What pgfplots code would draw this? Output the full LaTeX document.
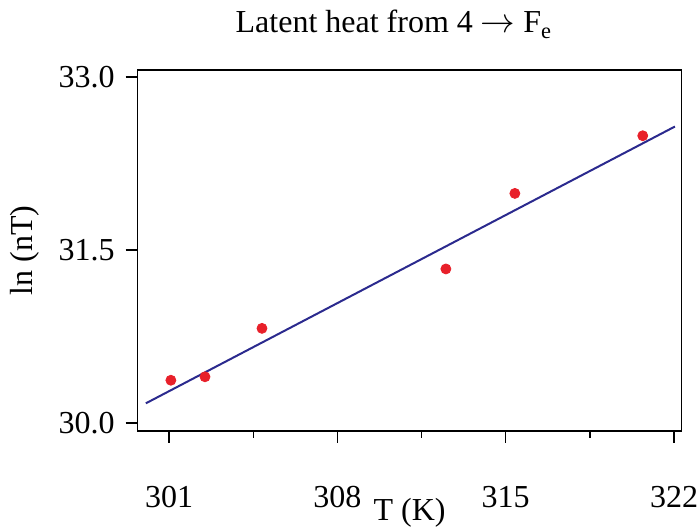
\documentclass[border=0pt]{standalone}
\usepackage{fontspec}
\setmainfont{Liberation Serif}
\usepackage{pgfplots}
\pgfplotsset{compat=1.18}
\definecolor{dotred}{HTML}{E8202A}
\definecolor{fitblue}{HTML}{2B2A8E}

\begin{document}
\fontsize{16pt}{19pt}\selectfont
\begin{tikzpicture}
\useasboundingbox (-68.85pt,-49pt) rectangle (279.65pt,215.5pt);
\begin{axis}[at={(0,0)},anchor=south west,scale only axis,
 width=272pt,height=180.5pt,
 xmin=299.69,xmax=322.32,ymin=29.93,ymax=33.06,
 xtick={301,308,315,322},minor xtick={304.5,311.5,318.5},
 ytick={30,31.5,33},
 xtick pos=bottom,ytick pos=left,tick align=outside,
 major tick length=6pt,minor tick length=3.5pt,
 every tick/.style={black,line width=0.7pt},
 axis line style={line width=0.7pt},
 /pgf/number format/assume math mode=true,
 x tick label style={/pgf/number format/1000 sep={},yshift=-16pt},
 y tick label style={/pgf/number format/fixed,/pgf/number format/fixed zerofill,/pgf/number format/precision=1},
 tick label style={font=\fontsize{16pt}{19pt}\selectfont},
 xlabel={T (K)},ylabel={ln (nT)},
 xlabel style={at={(axis description cs:0.5,0)},anchor=base,yshift=-45pt},
 ylabel style={at={(axis description cs:-0.207,0.5)},anchor=center},
 label style={font=\fontsize{16pt}{19pt}\selectfont},
 title={Latent heat from 4 $\rightarrow$ F\textsubscript{e}},
 title style={at={(axis description cs:0.471,1)},anchor=base,yshift=12.5pt,font=\fontsize{16pt}{19pt}\selectfont},
 clip=false]
\addplot[fitblue,line width=1pt] coordinates {(300.03,30.17)(322.04,32.57)};
\addplot[only marks,mark=*,mark size=2.5pt,color=dotred] coordinates {
 (301.07,30.37)(302.49,30.40)(304.86,30.82)(312.51,31.335)(315.38,31.99)(320.70,32.49)};
\end{axis}
\end{tikzpicture}
\end{document}
